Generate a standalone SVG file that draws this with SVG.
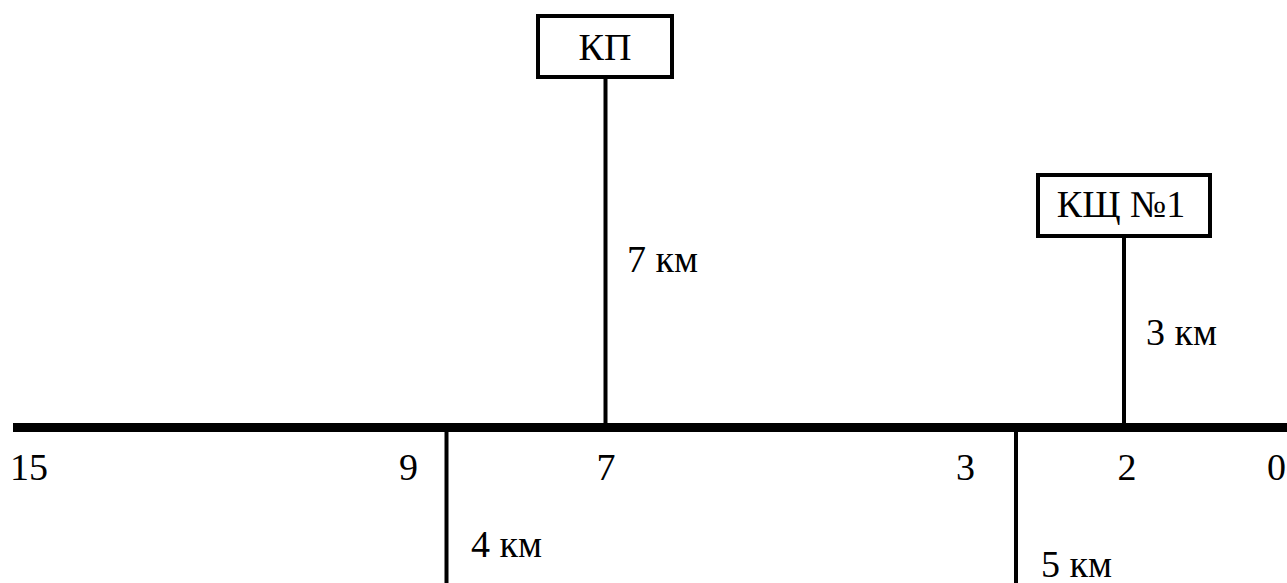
<svg xmlns="http://www.w3.org/2000/svg" width="1287" height="583" viewBox="0 0 1287 583">
<style>
text{font-family:'Liberation Serif','DejaVu Serif',serif;font-size:38px;fill:#000}
.box{fill:#fff;stroke:#000;stroke-width:4}
.ln{stroke:#000;stroke-width:4;fill:none}
</style>
<rect width="1287" height="583" fill="#fff"/>
<g id="connectors">
<line class="ln" x1="13" y1="427.5" x2="1287" y2="427.5" style="stroke-width:9"/>
<line class="ln" x1="605.5" y1="78" x2="605.5" y2="424"/>
<line class="ln" x1="1124" y1="237" x2="1124" y2="424"/>
<line class="ln" x1="446.5" y1="430" x2="446.5" y2="583"/>
<line class="ln" x1="1016" y1="430" x2="1016" y2="583"/>
</g>
<g id="kp">
<rect class="box" x="538" y="16" width="134" height="61"/>
<text x="605" y="60" text-anchor="middle">КП</text>
</g>
<g id="ksh1">
<rect class="box" x="1038" y="175" width="172" height="61"/>
<text x="1121" y="217" text-anchor="middle">КЩ №1</text>
</g>
<g id="labels">
<text x="10" y="480">15</text>
<text x="418" y="480" text-anchor="end">9</text>
<text x="606" y="480" text-anchor="middle">7</text>
<text x="975" y="480" text-anchor="end">3</text>
<text x="1127" y="480" text-anchor="middle">2</text>
<text x="1267" y="480">0</text>
<text x="627" y="272">7 км</text>
<text x="1146" y="345">3 км</text>
<text x="471" y="557">4 км</text>
<text x="1041" y="577">5 км</text>
</g>
</svg>
